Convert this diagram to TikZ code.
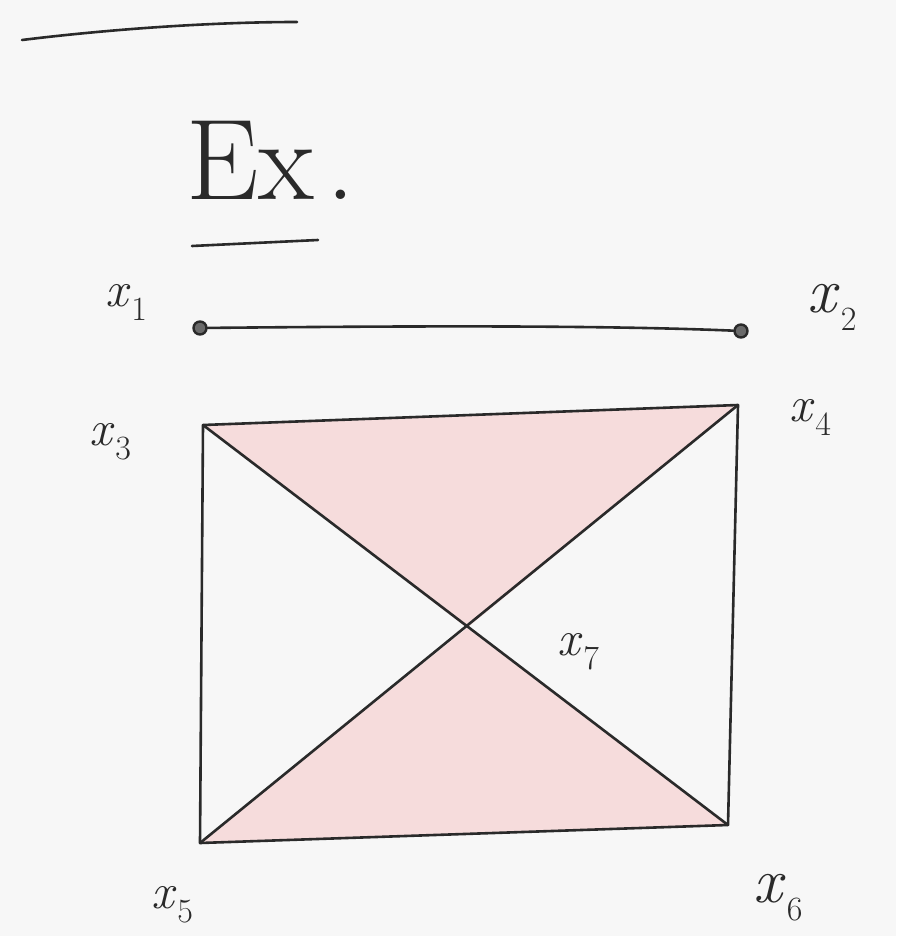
\documentclass[tikz,border=0pt]{standalone}
\usepackage{tikz}
\newcommand{\xlab}[1]{\textit{x}\kern1pt\raisebox{-0.28em}{\fontsize{34}{36}\selectfont #1}}
\begin{document}
\begin{tikzpicture}[x=1pt,y=-1pt,line cap=round,line join=round,
  ink/.style={draw=inkc,line width=2.6pt},
  lbl/.style={text=inkc,inner sep=0pt,font=\fontsize{50}{54}\selectfont},
  biglbl/.style={text=inkc,inner sep=0pt,font=\fontsize{64}{68}\selectfont},
  dotpt/.style={circle,draw=inkc,fill=inkc!70,line width=2.4pt,minimum size=13pt,inner sep=0pt}]
\definecolor{bgc}{HTML}{F7F7F7}
\definecolor{pinkc}{HTML}{F6DCDC}
\definecolor{inkc}{HTML}{2A2A2A}
\fill[bgc] (0,0) rectangle (896,936);
\useasboundingbox (0,0) rectangle (896,936);
% points
\coordinate (p3) at (203,425);
\coordinate (p4) at (738,405);
\coordinate (p5) at (200,843);
\coordinate (p6) at (728,825);
\coordinate (p7) at (467,628);
% pink fills
\fill[pinkc] (p3) -- (p4) -- (p7) -- cycle;
\fill[pinkc] (p7) -- (p5) -- (p6) -- cycle;
% top stroke
\coordinate (t1) at (22,40);
\coordinate (t2) at (297,22);
\draw[ink] (t1) .. controls (120,28) and (220,22) .. (t2);
% Ex.
\node[text=inkc,inner sep=0pt,anchor=base west,font=\fontsize{115}{115}\selectfont] (ex) at (186,200) {Ex\kern12pt.};
\coordinate (u1) at (192,246);
\coordinate (u2) at (318,240);
\draw[ink] (u1) -- (u2);
% segment x1 x2
\node[dotpt] (d1) at (200,328) {};
\node[dotpt] (d2) at (741,331) {};
\draw[ink] (d1) .. controls (400,326) and (600,325) .. (d2);
% rectangle
\draw[ink] (p3) -- (p4) -- (p6) -- (p5) -- cycle;
\draw[ink] (p3) -- (p6);
\draw[ink] (p4) -- (p5);
% labels
\node[lbl] (l1) at (126,302) {\xlab{1}};
\node[biglbl] (l2) at (832,307) {\xlab{2}};
\node[lbl] (l3) at (110,442) {\xlab{3}};
\node[lbl] (l4) at (810,417) {\xlab{4}};
\node[lbl] (l5) at (172,905) {\xlab{5}};
\node[biglbl] (l6) at (778,898) {\xlab{6}};
\node[lbl] (l7) at (578,652) {\xlab{7}};
\end{tikzpicture}
\end{document}
